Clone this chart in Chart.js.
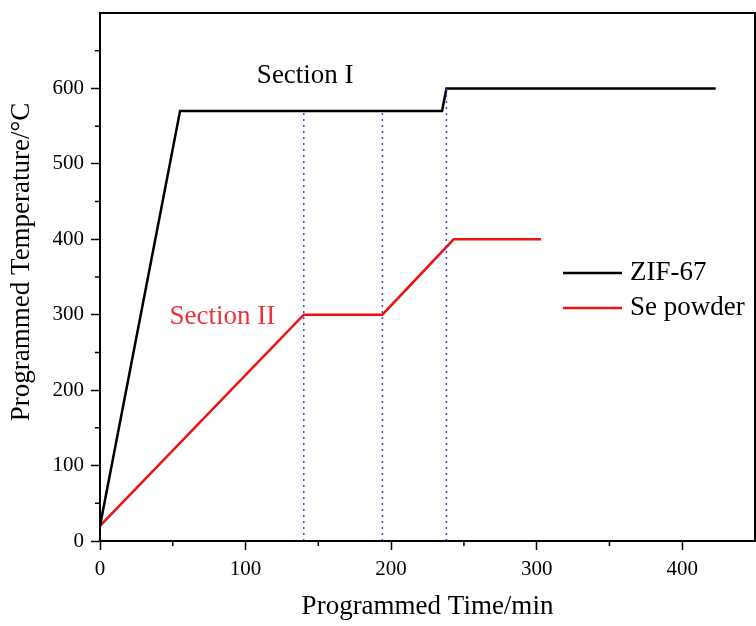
<!DOCTYPE html>
<html lang="en">
  <head>
    <meta charset="UTF-8" />
    <title>Programmed temperature</title>
    <script src="https://cdn.jsdelivr.net/npm/chart.js"></script>
    <style>
      html, body { margin: 0; padding: 0; background: #fff; }
      #wrap { width: 756px; height: 626px; }
    </style>
  </head>
  <body>
    <div id="wrap"><canvas id="grafico"></canvas></div>

    <script>
      // data
      const zifTime = [0, 55, 235, 238, 423];
      const zifTemp = [20, 570, 570, 600, 600];
      const seTime = [0, 140, 194, 243, 303];
      const seTemp = [20, 300, 300, 400, 400];
      const markTime = [140, 194, 238];
      const markTop = [570, 570, 600];
      const xTicks = [0, 100, 200, 300, 400];
      const yTicks = [0, 100, 200, 300, 400, 500, 600];
      const seriesNames = ["ZIF-67", "Se powder"];

      const serif = "'Liberation Serif', 'Times New Roman', serif";

      const pares = (xs, ys) => xs.map((x, i) => ({ x: x, y: ys[i] }));

      const linhasMarca = markTime.map((t, i) => ({
        label: "",
        data: [{ x: t, y: 0 }, { x: t, y: markTop[i] }],
        borderColor: "#3a48e0",
        borderWidth: 1.5,
        borderDash: [2, 4],
        pointRadius: 0,
        fill: false,
      }));

      // caixa, ticks menores, textos e legenda
      const extras = {
        id: "extras",
        afterDraw(chart) {
          const { ctx, chartArea: a, scales } = chart;
          const sx = scales.x, sy = scales.y;
          ctx.save();
          ctx.strokeStyle = "#000";
          ctx.lineWidth = 1.5;
          ctx.beginPath();
          for (let v = 50; v < 450; v += 100) {
            const px = sx.getPixelForValue(v);
            ctx.moveTo(px, a.bottom);
            ctx.lineTo(px, a.bottom + 5);
          }
          for (let v = 50; v < 700; v += 100) {
            const py = sy.getPixelForValue(v);
            ctx.moveTo(a.left, py);
            ctx.lineTo(a.left - 5, py);
          }
          ctx.stroke();

          ctx.lineWidth = 2;
          ctx.strokeRect(a.left, a.top, a.right - a.left, a.bottom - a.top);

          ctx.font = "27px " + serif;
          ctx.textAlign = "center";
          ctx.textBaseline = "middle";
          ctx.fillStyle = "#000";
          ctx.fillText("Section I", sx.getPixelForValue(141), sy.getPixelForValue(616));
          ctx.fillStyle = "#e8343a";
          ctx.fillText("Section II", sx.getPixelForValue(84), sy.getPixelForValue(297));

          // titulo do eixo y
          ctx.save();
          ctx.fillStyle = "#000";
          ctx.translate(22, sy.getPixelForValue(370));
          ctx.rotate(-Math.PI / 2);
          ctx.fillText("Programmed Temperature/°C", 0, 0);
          ctx.restore();

          // legenda
          const cores = ["#000", "#ee1111"];
          ctx.textAlign = "left";
          seriesNames.forEach((nome, i) => {
            const y = 273 + i * 35;
            ctx.strokeStyle = cores[i];
            ctx.lineWidth = 2.5;
            ctx.beginPath();
            ctx.moveTo(563, y);
            ctx.lineTo(622, y);
            ctx.stroke();
            ctx.fillStyle = "#000";
            ctx.fillText(nome, 630, y);
          });
          ctx.restore();
        },
      };

      new Chart(document.getElementById("grafico"), {
        type: "line",
        data: {
          datasets: [
            ...linhasMarca,
            {
              label: seriesNames[0],
              data: pares(zifTime, zifTemp),
              borderColor: "#000",
              borderWidth: 2.5,
              pointRadius: 0,
              fill: false,
            },
            {
              label: seriesNames[1],
              data: pares(seTime, seTemp),
              borderColor: "#ee1111",
              borderWidth: 2.5,
              pointRadius: 0,
              fill: false,
            },
          ],
        },
        options: {
          responsive: true,
          maintainAspectRatio: false,
          animation: false,
          layout: { padding: { top: 13, right: 1, left: 0, bottom: 0 } },
          plugins: {
            legend: { display: false },
            tooltip: { enabled: false },
          },
          scales: {
            x: {
              type: "linear",
              min: 0,
              max: 450,
              afterBuildTicks: (s) => { s.ticks = xTicks.map((v) => ({ value: v })); },
              afterFit: (s) => { s.height = 85; s.paddingRight = 0; },
              ticks: {
                color: "#000",
                font: { family: serif, size: 21 },
                padding: 7,
                maxRotation: 0,
              },
              grid: {
                drawOnChartArea: false,
                drawTicks: true,
                tickLength: 9,
                tickColor: "#000",
                tickWidth: 1.5,
              },
              border: { display: true, color: "#000", width: 2 },
              title: {
                display: true,
                text: "Programmed Time/min",
                color: "#000",
                font: { family: serif, size: 27 },
                padding: { top: 0, bottom: 3 },
              },
            },
            y: {
              min: 0,
              max: 700,
              afterBuildTicks: (s) => { s.ticks = yTicks.map((v) => ({ value: v })); },
              afterFit: (s) => { s.width = 100; s.paddingTop = 0; },
              ticks: {
                color: "#000",
                font: { family: serif, size: 21 },
                padding: 7,
              },
              grid: {
                drawOnChartArea: false,
                drawTicks: true,
                tickLength: 9,
                tickColor: "#000",
                tickWidth: 1.5,
              },
              border: { display: true, color: "#000", width: 2 },
            },
          },
        },
        plugins: [extras],
      });
    </script>
  </body>
</html>
